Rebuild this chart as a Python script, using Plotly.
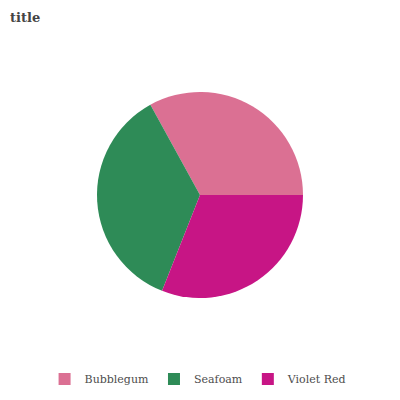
import plotly.graph_objects as go

labels = ["Bubblegum", "Seafoam", "Violet Red"]
values = [33, 36, 31]
colors = ["#DB7093", "#2E8B57", "#C71585"]

fig = go.Figure(go.Pie(
    labels=labels, values=values, sort=False,
    direction="counterclockwise", rotation=-28.8,
    marker=dict(colors=colors, line=dict(width=0)),
    textinfo="none", hoverinfo="label+value",
))
fig.update_layout(
    width=400, height=400,
    paper_bgcolor="white", plot_bgcolor="white",
    margin=dict(l=0, r=16, t=84, b=110),
    title=dict(text="<b>title</b>", x=0.005, xanchor="left", y=0.9775, yanchor="middle",
               font=dict(family="DejaVu Serif", size=13, color="#444444")),
    legend=dict(orientation="h", x=0.495, xanchor="center", y=-0.393, yanchor="middle",
                font=dict(family="DejaVu Serif", size=11, color="#4d4d4d")),
)
fig.write_html("out.html")
